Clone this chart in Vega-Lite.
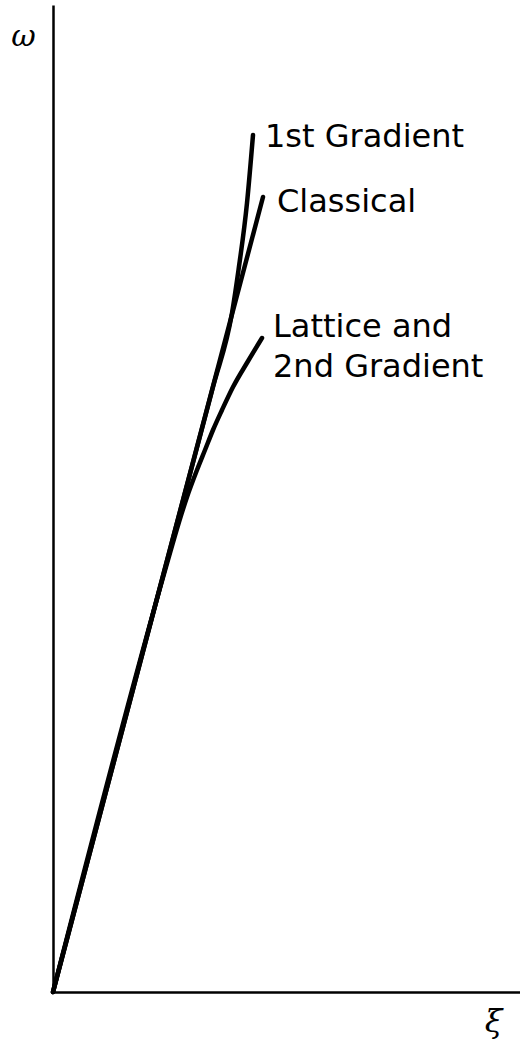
{
  "$schema": "https://vega.github.io/schema/vega-lite/v6.json",
  "autosize": {"type": "none"},
  "padding": {"left": 53, "top": 5, "right": 0, "bottom": 51},
  "width": 467,
  "height": 987,
  "background": "white",
  "config": {"view": {"stroke": null}},
  "datasets": {
    "curves": [
      {"model": "Classical", "xi": 0, "omega": 0},
      {"model": "Classical", "xi": 2.10, "omega": 7.95},
      {"model": "1st Gradient", "xi": 0, "omega": 0},
      {"model": "1st Gradient", "xi": 1.60, "omega": 6.05},
      {"model": "1st Gradient", "xi": 1.79, "omega": 6.79},
      {"model": "1st Gradient", "xi": 1.855, "omega": 7.22},
      {"model": "1st Gradient", "xi": 1.94, "omega": 7.89},
      {"model": "1st Gradient", "xi": 2.00, "omega": 8.57},
      {"model": "Lattice and 2nd Gradient", "xi": 0, "omega": 0},
      {"model": "Lattice and 2nd Gradient", "xi": 1.13, "omega": 4.25},
      {"model": "Lattice and 2nd Gradient", "xi": 1.26, "omega": 4.70},
      {"model": "Lattice and 2nd Gradient", "xi": 1.34, "omega": 4.95},
      {"model": "Lattice and 2nd Gradient", "xi": 1.44, "omega": 5.22},
      {"model": "Lattice and 2nd Gradient", "xi": 1.52, "omega": 5.42},
      {"model": "Lattice and 2nd Gradient", "xi": 1.60, "omega": 5.62},
      {"model": "Lattice and 2nd Gradient", "xi": 1.69, "omega": 5.82},
      {"model": "Lattice and 2nd Gradient", "xi": 1.80, "omega": 6.05},
      {"model": "Lattice and 2nd Gradient", "xi": 1.945, "omega": 6.30},
      {"model": "Lattice and 2nd Gradient", "xi": 2.09, "omega": 6.54}
    ],
    "labels": [
      {"label": "1st Gradient", "xi": 2.12, "omega": 8.45},
      {"label": "Classical", "xi": 2.24, "omega": 7.80},
      {"label": "Lattice and\n2nd Gradient", "xi": 2.20, "omega": 6.55}
    ]
  },
  "layer": [
    {
      "data": {"name": "curves"},
      "mark": {"type": "line", "color": "black", "strokeWidth": 4.5, "interpolate": "monotone", "strokeCap": "round", "strokeJoin": "round"},
      "encoding": {
        "x": {
          "field": "xi", "type": "quantitative",
          "scale": {"domain": [0, 4.67], "nice": false, "zero": false},
          "axis": {
            "title": "ξ", "titleFont": "DejaVu Serif", "titleFontStyle": "italic", "titleFontWeight": "normal",
            "titleFontSize": 32, "titleColor": "black", "titleAngle": 0,
            "titleX": 440, "titleY": 29, "titleAlign": "center", "titleBaseline": "middle",
            "labels": false, "ticks": false, "grid": false,
            "domainColor": "black", "domainWidth": 2.5
          }
        },
        "y": {
          "field": "omega", "type": "quantitative",
          "scale": {"domain": [0, 9.87], "nice": false, "zero": false},
          "axis": {
            "title": "ω", "titleFont": "DejaVu Serif", "titleFontStyle": "italic", "titleFontWeight": "normal",
            "titleFontSize": 30, "titleColor": "black", "titleAngle": 0,
            "titleX": -30, "titleY": 31, "titleAlign": "center", "titleBaseline": "middle",
            "labels": false, "ticks": false, "grid": false,
            "domainColor": "black", "domainWidth": 2.5
          }
        },
        "detail": {"field": "model", "type": "nominal"}
      }
    },
    {
      "data": {"name": "labels"},
      "mark": {"type": "text", "font": "DejaVu Sans", "fontSize": 32, "color": "black", "align": "left", "baseline": "alphabetic", "lineBreak": "\n", "lineHeight": 40},
      "encoding": {
        "x": {"field": "xi", "type": "quantitative"},
        "y": {"field": "omega", "type": "quantitative"},
        "text": {"field": "label"}
      }
    }
  ]
}
